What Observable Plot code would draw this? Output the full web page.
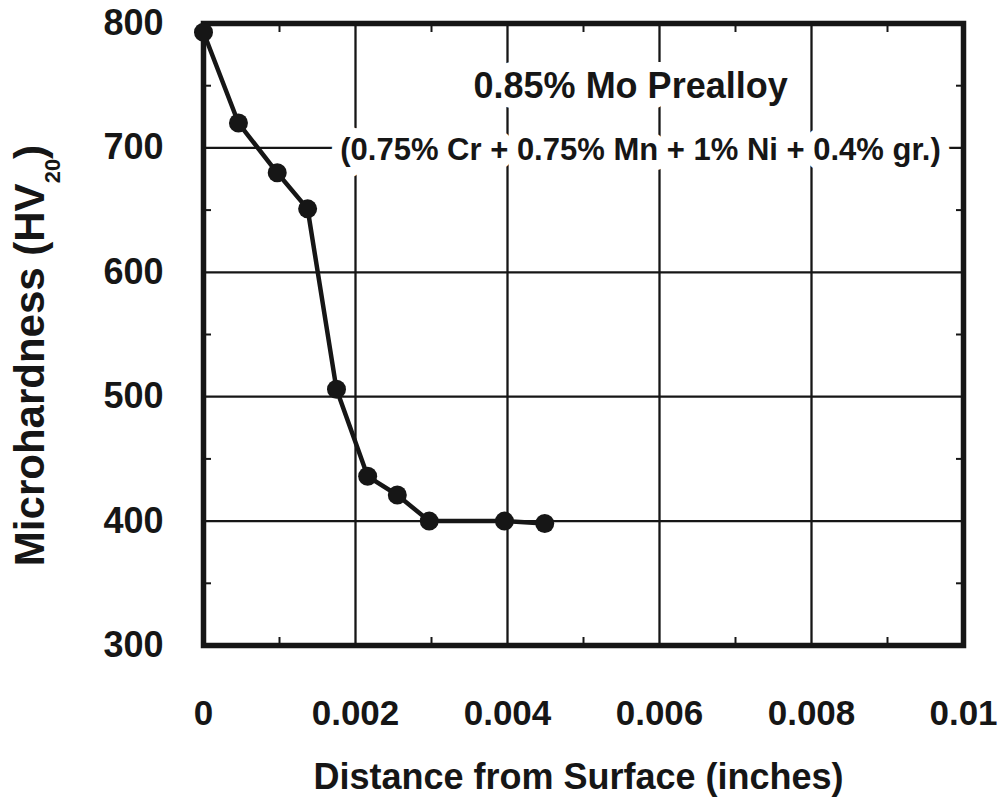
<!DOCTYPE html>
<html><head><meta charset="utf-8">
<script src="https://cdn.jsdelivr.net/npm/d3@7"></script>
<script src="https://cdn.jsdelivr.net/npm/@observablehq/plot@0.6"></script>
<style>
html,body{margin:0;padding:0;background:#fff;}
#chart svg text{font-weight:bold;}
</style></head><body><div id="chart"></div>
<script>
// Data
const depth    = [0, 0.00046, 0.00097, 0.00137, 0.00175, 0.00216, 0.00255, 0.00297, 0.00396, 0.00449];
const hardness = [793, 720, 680, 651, 506, 436, 421, 400, 400, 398];

const xTicks = [0, 0.002, 0.004, 0.006, 0.008, 0.01];
const xTickLabels = ["0", "0.002", "0.004", "0.006", "0.008", "0.01"];
const xGrid = [0.002, 0.004, 0.006, 0.008];
const xMinor = [0.001, 0.003, 0.005, 0.007, 0.009];
const yTicks = [300, 400, 500, 600, 700, 800];
const yTickLabels = ["300", "400", "500", "600", "700", "800"];
const yGrid = [400, 500, 600, 700];
const yMinor = [350, 450, 550, 650, 750];

const titleText = "0.85% Mo Prealloy";
const subtitleText = "(0.75% Cr + 0.75% Mn + 1% Ni + 0.4% gr.)";
const annotX = [0.00562, 0.00575];
const annotY = [740, 690];
const xLabel = "Distance from Surface (inches)";
const yLabelMain = "Microhardness (HV";
const yLabelSub = "20";
const yLabelEnd = ")";

const points = depth.map((d, i) => ({depth: d, hardness: hardness[i]}));
const ink = "#161616";

const svg = Plot.plot({
  width: 998, height: 799,
  marginLeft: 203, marginRight: 35, marginTop: 23, marginBottom: 154,
  x: {domain: [0, 0.01]},
  y: {domain: [300, 800]},
  style: {fontFamily: "'Liberation Sans', Arial, sans-serif", color: ink, background: "#fff", overflow: "visible"},
  marks: [
    Plot.ruleX(xGrid, {stroke: ink, strokeWidth: 2.3}),
    Plot.ruleY(yGrid, {stroke: ink, strokeWidth: 2.3}),
    Plot.text([titleText], {x: () => annotX[0], y: () => annotY[0], text: d => d, fontSize: 36, fontWeight: "bold",
      lineAnchor: "bottom", textAnchor: "middle", fill: ink, stroke: "white", strokeWidth: 20}),
    Plot.text([subtitleText], {x: () => annotX[1], y: () => annotY[1], text: d => d, fontSize: 31, fontWeight: "bold",
      lineAnchor: "bottom", textAnchor: "middle", fill: ink, stroke: "white", strokeWidth: 20}),
    Plot.frame({stroke: ink, strokeWidth: 5.5}),
    Plot.axisX(xMinor, {anchor: "bottom", tickSize: 8, dy: -8, tickFormat: () => "", label: null, strokeWidth: 2}),
    Plot.axisX(xMinor, {anchor: "top", tickSize: 8, dy: 8, tickFormat: () => "", label: null, strokeWidth: 2}),
    Plot.axisY(yMinor, {anchor: "left", tickSize: 8, dx: 8, tickFormat: () => "", label: null, strokeWidth: 2}),
    Plot.axisY(yMinor, {anchor: "right", tickSize: 8, dx: -8, tickFormat: () => "", label: null, strokeWidth: 2}),
    Plot.line(points, {x: "depth", y: "hardness", stroke: ink, strokeWidth: 4.5}),
    Plot.dot(points, {x: "depth", y: "hardness", r: 9.5, fill: ink, stroke: "none"}),
    Plot.axisX(xTicks, {anchor: "bottom", tickSize: 0, tickPadding: 55, fontSize: 35, fontWeight: "bold",
      tickFormat: d => xTickLabels[xTicks.indexOf(d)], label: null}),
    Plot.axisY(yTicks, {anchor: "left", tickSize: 0, tickPadding: 40, fontSize: 36, fontWeight: "bold",
      tickFormat: d => yTickLabels[yTicks.indexOf(d)], label: null}),
    Plot.text([xLabel], {frameAnchor: "bottom", dx: -5, dy: 143, lineAnchor: "bottom", textAnchor: "middle",
      text: d => d, fontSize: 36, fontWeight: "bold", fill: ink}),
    Plot.text([yLabelMain + yLabelSub + yLabelEnd], {frameAnchor: "left", rotate: -90, dx: -160, dy: 21,
      lineAnchor: "bottom", textAnchor: "middle", text: d => d, fontSize: 42, fontWeight: "bold", fill: ink})
  ]
});

// subscript in y label
d3.select(svg).selectAll("text")
  .filter(function() { return this.textContent === yLabelMain + yLabelSub + yLabelEnd; })
  .each(function() {
    const t = d3.select(this);
    t.text(null);
    t.append("tspan").text(yLabelMain);
    t.append("tspan").attr("font-size", 22).attr("dy", 16).text(yLabelSub);
    t.append("tspan").attr("dy", -16).text(yLabelEnd);
  });

document.getElementById("chart").appendChild(svg);
</script></body></html>
